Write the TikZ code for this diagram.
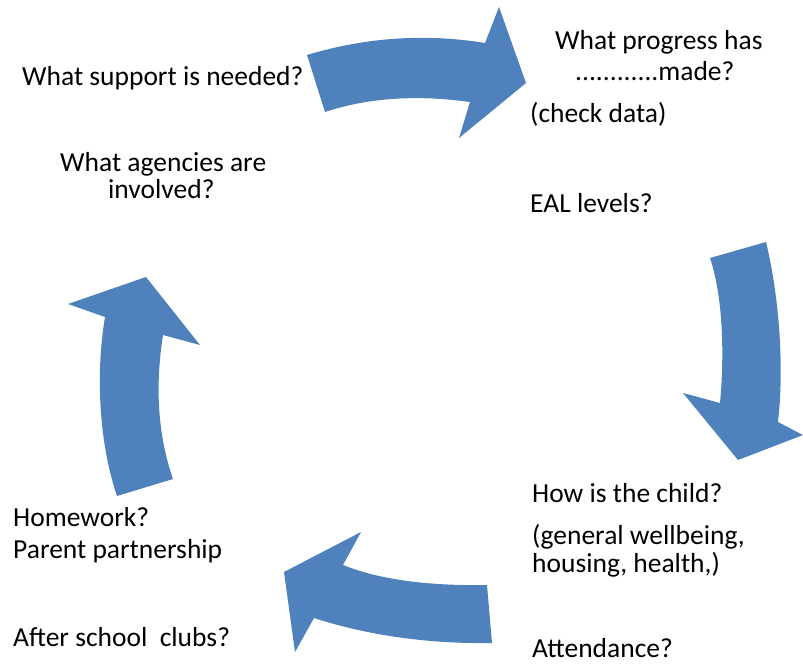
\documentclass[tikz,border=0pt]{standalone}
\usepackage{fontspec}
\setmainfont{Carlito}
\definecolor{arrowblue}{HTML}{4F81BD}
\tikzset{
  cyclearrow/.style={fill=arrowblue,draw=none},
  qtext/.style={anchor=base west,inner sep=0pt,font=\fontsize{27.5}{32}\selectfont},
}
\begin{document}
\begin{tikzpicture}[x=1pt,y=-1pt]
  \useasboundingbox (0,0) rectangle (803,664);
%%
  % Arrow: top, to the right
  \fill [cyclearrow] (307,55) .. controls (370,36) and (430,34) .. (485,43)
    -- (499,7) -- (526,83) -- (459,138) -- (470,102)
    .. controls (420,95) and (370,97) .. (325,112) -- cycle;
  % Arrow: right, downwards
  \fill [cyclearrow] (710,258) -- (766,242) .. controls (780,300) and (784,370) .. (778,422)
    -- (803,435) -- (738,460) -- (683,393) -- (720,403)
    .. controls (724,360) and (724,300) .. (710,258) -- cycle;
  % Arrow: bottom, to the left
  \fill [cyclearrow] (487,585) .. controls (430,586) and (380,580) .. (343,565)
    -- (361,532) -- (284,572) -- (295,652) -- (314,618)
    .. controls (370,636) and (430,644) .. (492,643) -- cycle;
  % Arrow: left, upwards
  \fill [cyclearrow] (117,496) .. controls (98,440) and (96,370) .. (105,317)
    -- (68,304) -- (146,277) -- (200,345) -- (163,335)
    .. controls (156,380) and (156,430) .. (173,479) -- cycle;
%%
  % Text: support
  \node [qtext] (support) at (22,85) {What support is needed?};
  % Text: agencies
  \node [qtext] (agencies1) at (60,171) {What agencies are};
  \node [qtext] (agencies2) at (108,198) {involved?};
  % Text: progress
  \node [qtext] (progress1) at (555,49) {What progress has};
  \node [qtext] (progress2) at (575,80) {............made?};
  \node [qtext] (checkdata) at (530,122) {(check data)};
  \node [qtext] (eal) at (530,212) {EAL levels?};
  % Text: child
  \node [qtext] (child) at (532,502) {How is the child?};
  \node [qtext] (wellbeing1) at (532,544) {(general wellbeing,};
  \node [qtext] (wellbeing2) at (532,572) {housing, health,)};
  \node [qtext] (attendance) at (532,657) {Attendance?};
  % Text: home
  \node [qtext] (homework) at (13,526) {Homework?};
  \node [qtext] (parents) at (13,558) {Parent partnership};
  \node [qtext] (clubs) at (13,646) {After school\ \ clubs?};
%
\end{tikzpicture}
\end{document}
